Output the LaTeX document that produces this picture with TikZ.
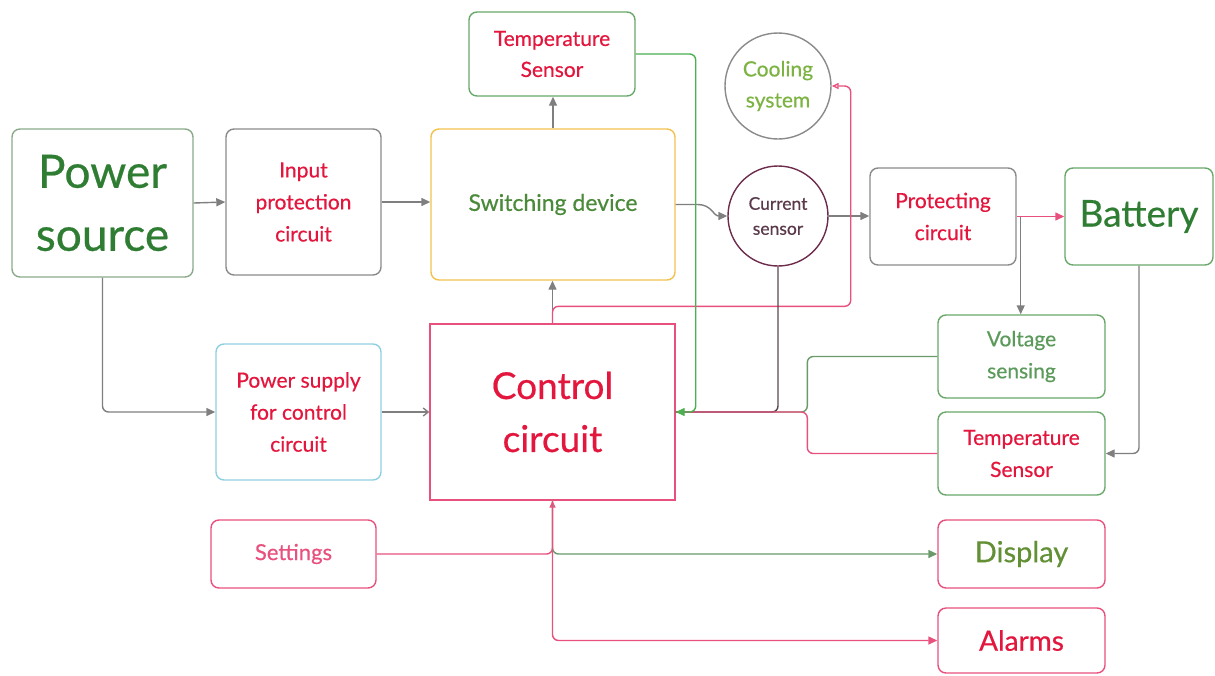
\documentclass[tikz,border=0pt]{standalone}
\usepackage{fontspec}
\setmainfont{Lato}[FakeBold=0.5]
\usetikzlibrary{arrows.meta,calc}
\definecolor{lgray}{HTML}{7F7F7F}
\definecolor{bgray}{HTML}{8A8A8A}
\definecolor{csline}{HTML}{5A4650}
\definecolor{pinkc}{HTML}{E8507E}
\definecolor{gline}{HTML}{4CAF50}
\definecolor{gvline}{HTML}{6A9A6A}
\definecolor{redt}{HTML}{E3173E}
\definecolor{dgreen}{HTML}{2E7D32}
\definecolor{mgreen}{HTML}{4A8A3A}
\definecolor{lgreen}{HTML}{7CB342}
\definecolor{vgreen}{HTML}{5B9A5B}
\definecolor{gbord}{HTML}{6AA86A}
\definecolor{psbord}{HTML}{8AAA8A}
\definecolor{ybord}{HTML}{F2C14E}
\definecolor{bbord}{HTML}{8FD0E0}
\definecolor{csbord}{HTML}{6D2C4B}
\definecolor{cstext}{HTML}{5A3A4A}
\tikzset{
  x=1pt, y=-1pt,
  blk/.style={draw, rounded corners=8, line width=1.4, align=center, inner sep=0pt},
  circ/.style={draw, circle, line width=1.4, align=center, inner sep=0pt},
  conn/.style={line width=1.4, rounded corners=6},
  tip/.style={-{Triangle[length=9,width=8]}},
  otip/.style={-{Triangle[open,length=7,width=6]}},
  btip/.style={-{Straight Barb[length=5,width=8]}},
}
\begin{document}
\begin{tikzpicture}
\useasboundingbox (0,0) rectangle (1215,675);
% nodes
\node[blk, draw=psbord, minimum width=181, minimum height=148, text=dgreen,
      font=\fontsize{46}{63}\selectfont] (ps) at (102.5,203) {Power\\source};
\node[blk, draw=bgray, minimum width=155, minimum height=146, text=redt,
      font=\fontsize{21}{32}\selectfont] (ipc) at (303.5,202) {Input\\protection\\circuit};
\node[blk, draw=ybord, minimum width=244, minimum height=151, text=mgreen,
      font=\fontsize{23}{30}\selectfont] (sw) at (553,204.5) {Switching device};
\node[blk, draw=gbord, minimum width=166, minimum height=84, text=redt,
      font=\fontsize{21}{31}\selectfont] (ts1) at (552,54) {Temperature\\Sensor};
\node[circ, draw=bgray, minimum size=106, text=lgreen,
      font=\fontsize{21}{31}\selectfont] (cool) at (778,86) {Cooling\\system};
\node[circ, draw=csbord, minimum size=100, text=cstext,
      font=\fontsize{17.5}{25}\selectfont] (cs) at (778,216) {Current\\sensor};
\node[blk, draw=bgray, minimum width=146, minimum height=97, text=redt,
      font=\fontsize{21}{32}\selectfont] (pc) at (943,216.5) {Protecting\\circuit};
\node[blk, draw=gbord, minimum width=148, minimum height=97, text=dgreen,
      font=\fontsize{37}{44}\selectfont] (bat) at (1139,216.5) {Battery};
\node[blk, draw=gbord, minimum width=167, minimum height=83, text=vgreen,
      font=\fontsize{21}{32}\selectfont] (vs) at (1021.5,356.5) {Voltage\\sensing};
\node[blk, draw=gbord, minimum width=167, minimum height=83, text=redt,
      font=\fontsize{21}{32}\selectfont] (ts2) at (1021.5,453.5) {Temperature\\Sensor};
\node[blk, draw=bbord, minimum width=165, minimum height=136, text=redt,
      font=\fontsize{21}{32}\selectfont] (psc) at (298.5,412) {Power supply\\for control\\circuit};
\node[blk, rounded corners=0, draw=pinkc, minimum width=245, minimum height=176, text=redt,
      font=\fontsize{37}{53}\selectfont] (cc) at (552.5,412) {Control\\circuit};
\node[blk, draw=pinkc, minimum width=165, minimum height=68, text=pinkc,
      font=\fontsize{22}{30}\selectfont] (set) at (293.5,554) {Settings};
\node[blk, draw=pinkc, minimum width=167, minimum height=68, text=lgreen!80!black,
      font=\fontsize{29}{34}\selectfont] (disp) at (1021.5,554) {Display};
\node[blk, draw=pinkc, minimum width=167, minimum height=65, text=redt,
      font=\fontsize{28}{34}\selectfont] (alarm) at (1021.5,640.5) {Alarms};
% connectors
\draw[conn, lgray, tip] (ps.east) -- (ipc.west);
\draw[conn, lgray, tip] (ipc.east) -- (ipc.east -| sw.west);
\draw[conn, lgray, tip] (sw.north) -- (sw.north |- ts1.south);
\draw[conn, lgray, tip] (cc.north) -- (cc.north |- sw.south);
\draw[line width=1.4, lgray, tip] (sw.east) -- ++(22,0) .. controls +(14,0) and +(-14,0) .. (cs.west);
\draw[conn, lgray, tip] (cs.east) -- (cs.east -| pc.west);
\draw[conn, pinkc, tip] (pc.east) -- (pc.east -| bat.west);
\draw[conn, lgray, tip] ([xshift=4pt]pc.east) -- ([xshift=4pt]pc.east |- vs.north);
\draw[conn, lgray, tip] (bat.south) |- (ts2.east);
\draw[conn, pinkc, otip] (cc.north) -- ++(0,-17) -| ([xshift=19pt]cool.east) -- (cool.east);
\draw[conn, gvline] (vs.west) -- ++(-130,0) |- (cc.east);
\draw[conn, csline] (cs.south) |- (cc.east);
\draw[conn, pinkc] (ts2.west) -- ++(-130,0) |- (cc.east);
\draw[conn, gline, tip] (ts1.east) -- ++(60,0) |- (cc.east);
\draw[conn, lgray, tip] (ps.south) |- (psc.west);
\draw[conn, lgray, btip] (psc.east) -- (cc.west);
\draw[conn, pinkc, tip] (cc.south) |- (alarm.west);
\draw[conn, gvline, tip] (cc.south) |- (disp.west);
\draw[conn, pinkc, otip] (set.east) -| (cc.south);
\end{tikzpicture}
\end{document}
